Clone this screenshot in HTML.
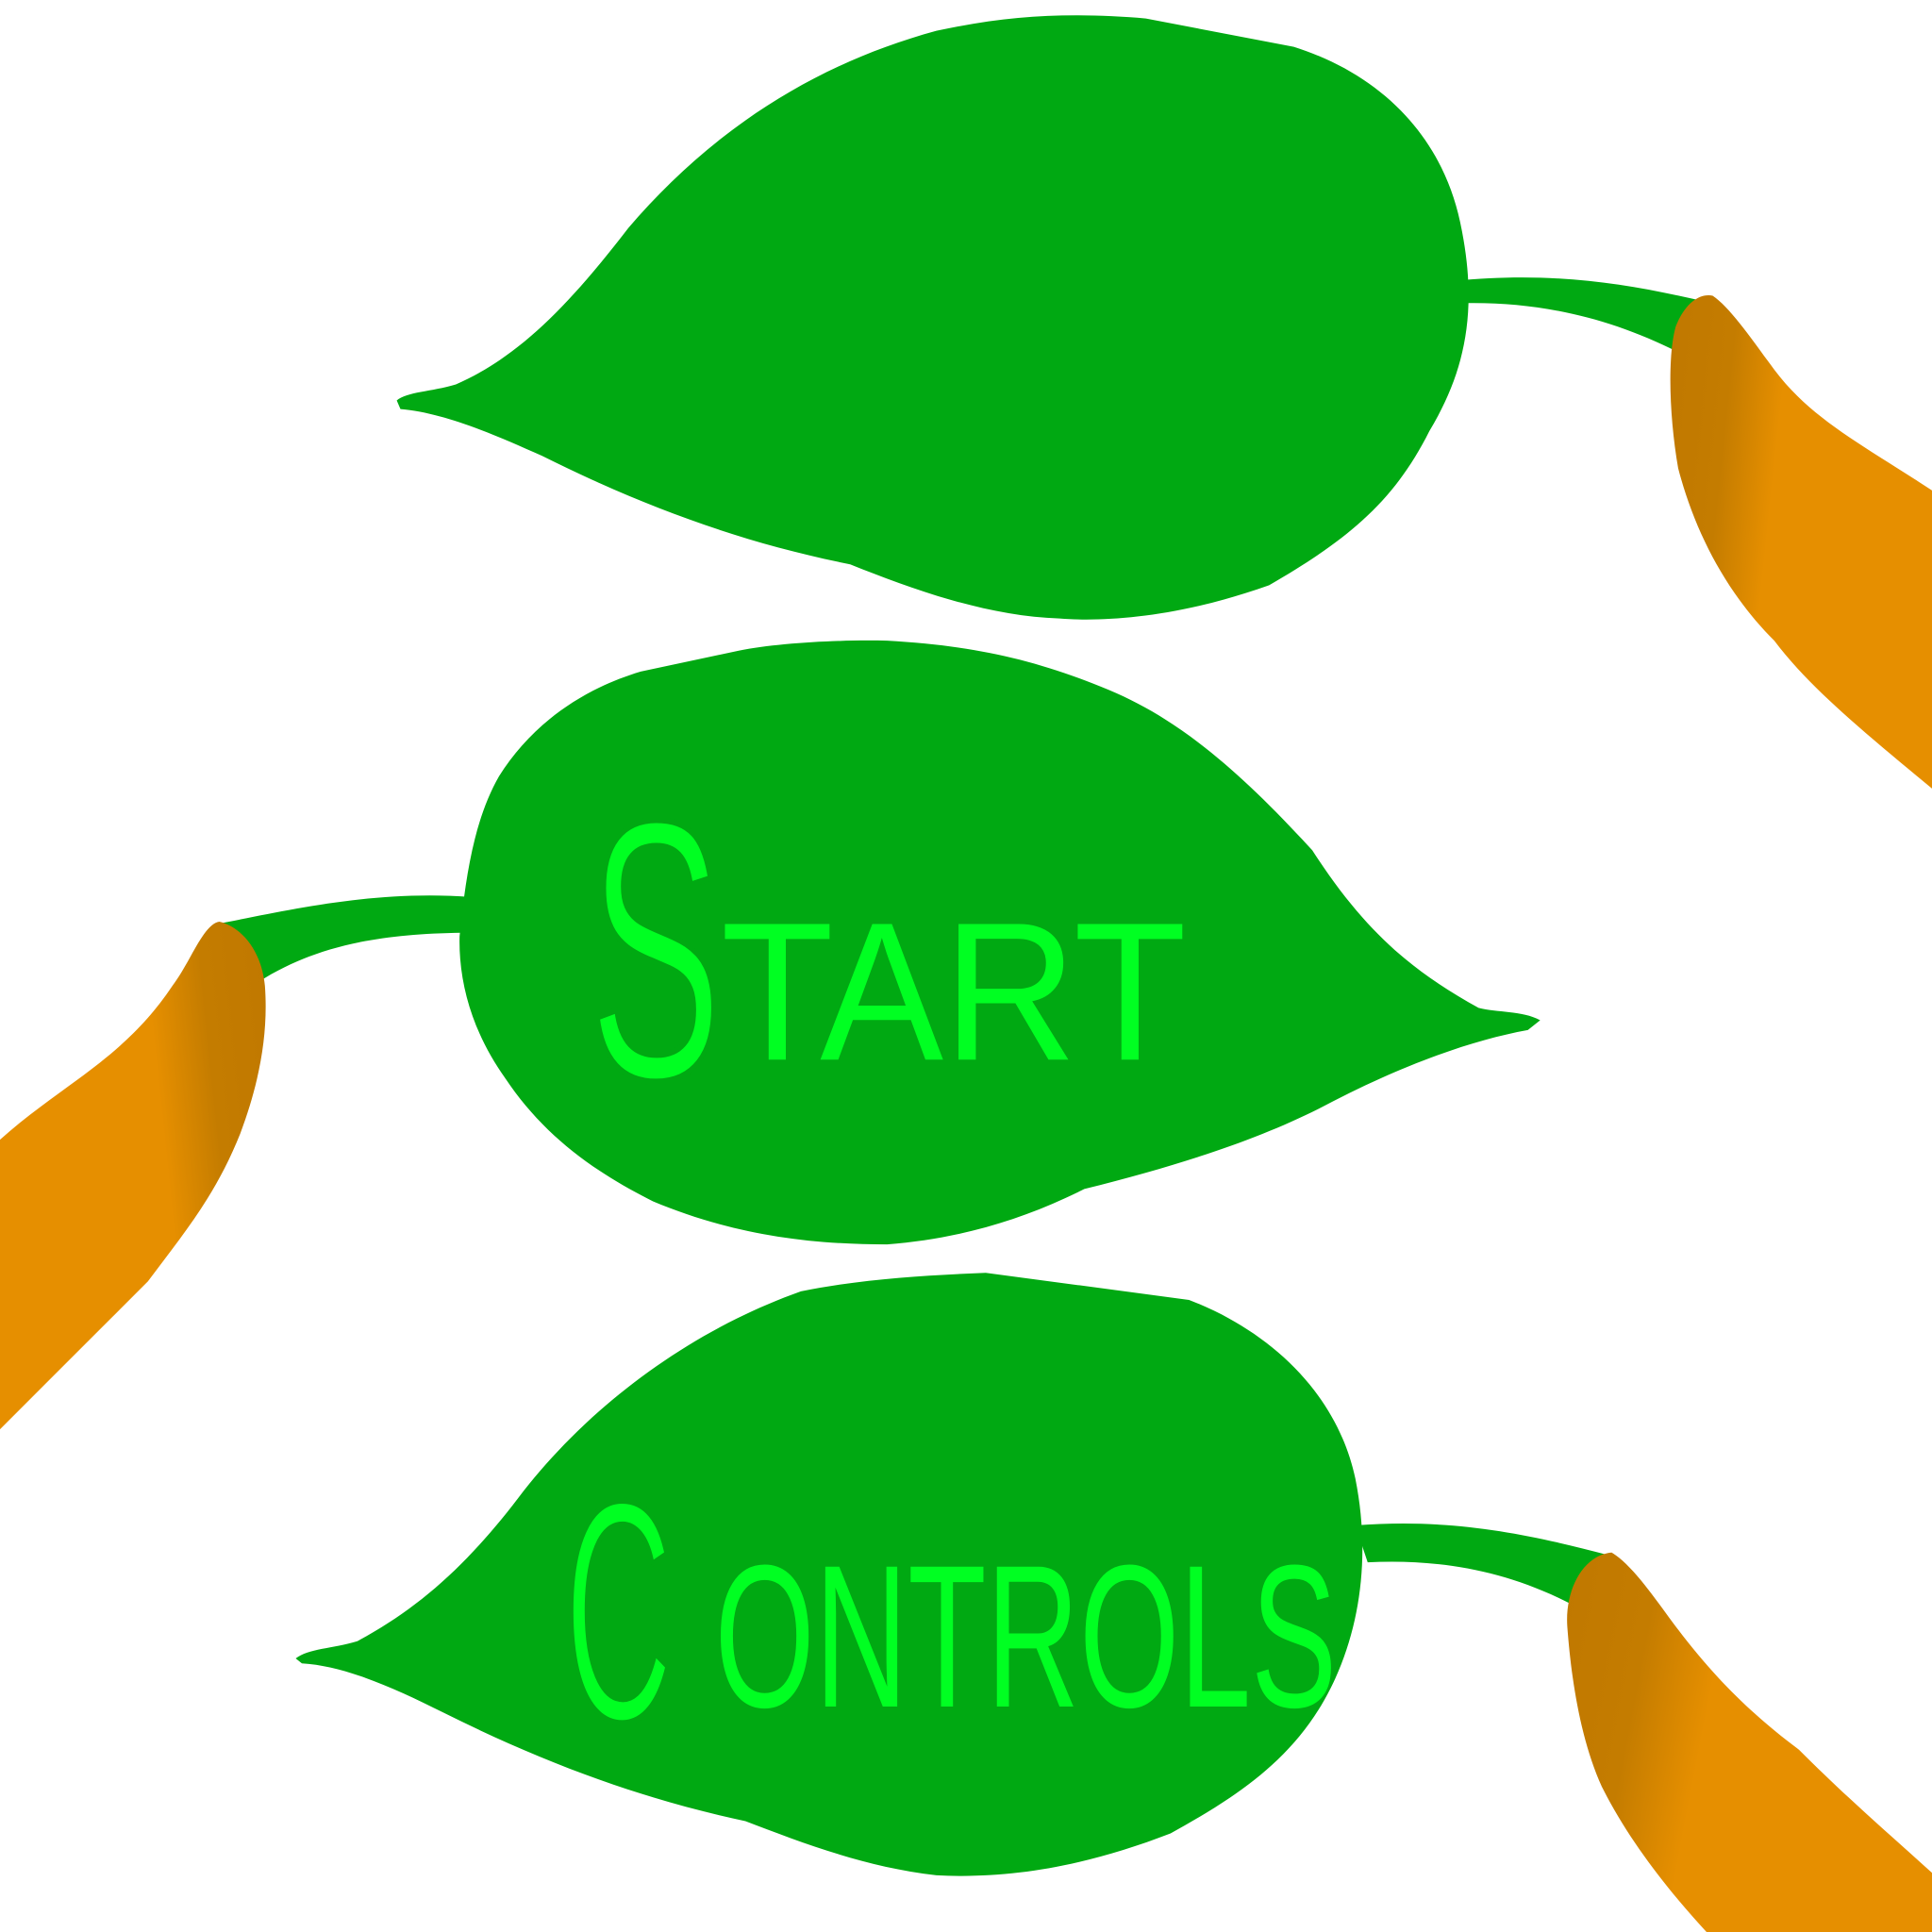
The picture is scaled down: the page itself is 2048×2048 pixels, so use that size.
<!DOCTYPE html>
<html><head><meta charset="utf-8"><style>
html,body{margin:0;padding:0;background:#fff;width:2048px;height:2048px;overflow:hidden}
svg{display:block}
</style></head><body>
<svg width="2048" height="2048" viewBox="0 0 1568 1568" preserveAspectRatio="none">
<defs>
<linearGradient id="tipR" x1="0" y1="0" x2="1" y2="0.2"><stop offset="0" stop-color="#c07800"/><stop offset="0.25" stop-color="#c47c00"/><stop offset="0.45" stop-color="#e68f00"/><stop offset="1" stop-color="#e68f00"/></linearGradient>
<linearGradient id="tipL" x1="1" y1="0" x2="0" y2="0.2"><stop offset="0" stop-color="#c07800"/><stop offset="0.25" stop-color="#c47c00"/><stop offset="0.45" stop-color="#e68f00"/><stop offset="1" stop-color="#e68f00"/></linearGradient>
</defs>

<g>
<path d="M1180,228 C1260,220 1320,230 1385,245 L1370,290 C1310,258 1250,245 1190,246 Z" fill="#00a912"/>
<path d="M322,325 C330,318 350,318 370,312 C420,290 460,250 510,185 C570,115 650,55 760,25 C820,12 870,10 930,15 L1050,38 C1120,60 1170,110 1185,180 C1200,250 1190,300 1160,350 C1130,410 1090,440 1030,475 C960,500 900,505 860,502 C800,500 740,478 690,458 C600,440 520,410 440,370 C400,352 360,335 325,332 Z" fill="#00a912"/>
</g>
<path d="M1390,240 C1405,250 1425,280 1440,300 C1470,340 1510,360 1568,398 L1568,640 C1520,600 1470,560 1440,520 C1400,480 1375,430 1362,380 C1355,340 1353,290 1360,265 C1368,245 1380,238 1390,240 Z" fill="url(#tipR)"/>

<g>
<path d="M175,750 C230,740 300,722 382,728 L375,757 C300,758 250,770 205,800 Z" fill="#00a912"/>
<path d="M1250,828 C1235,820 1215,822 1200,818 C1150,790 1110,760 1065,690 C1010,630 960,585 900,560 C840,535 790,524 720,520 C680,519 630,522 600,528 L520,545 C470,560 430,590 405,630 C385,665 378,710 373,760 C372,800 385,840 410,875 C440,920 480,950 530,975 C590,1000 650,1010 720,1010 C780,1005 830,990 880,965 C960,945 1020,925 1070,900 C1130,868 1190,845 1240,836 Z" fill="#00a912"/>
<text x="478" y="875" font-family="'Liberation Sans', sans-serif" font-size="300" fill="#00ff22" stroke="#00a912" stroke-width="5" paint-order="fill stroke" textLength="108" lengthAdjust="spacingAndGlyphs">S</text>
<text x="585" y="860" font-family="'Liberation Sans', sans-serif" font-size="160" fill="#00ff22" textLength="378" lengthAdjust="spacingAndGlyphs">TART</text>
</g>
<path d="M178,748 C195,752 212,770 215,800 C218,840 210,880 195,920 C175,970 150,1000 120,1040 C80,1080 40,1120 0,1160 L0,925 C50,880 100,860 140,800 C155,780 165,750 178,748 Z" fill="url(#tipL)"/>

<g>
<path d="M1100,1238 C1180,1232 1240,1245 1305,1262 L1290,1310 C1230,1275 1170,1265 1110,1268 Z" fill="#00a912"/>
<path d="M240,1346 C250,1338 270,1338 290,1332 C340,1305 380,1270 425,1210 C480,1140 560,1080 650,1048 C700,1038 750,1035 800,1033 L965,1055 C1030,1080 1085,1130 1100,1200 C1112,1260 1105,1320 1080,1370 C1050,1430 1000,1460 950,1488 C880,1515 820,1525 760,1522 C700,1515 650,1495 605,1478 C520,1460 440,1430 360,1390 C320,1370 280,1352 245,1350 Z" fill="#00a912"/>
<text x="458" y="1396" font-family="'Liberation Sans', sans-serif" font-size="255" fill="#00ff22" stroke="#00a912" stroke-width="5" paint-order="fill stroke" textLength="88" lengthAdjust="spacingAndGlyphs">C</text>
<text x="580" y="1385" font-family="'Liberation Sans', sans-serif" font-size="165" fill="#00ff22" textLength="505" lengthAdjust="spacingAndGlyphs">ONTROLS</text>
</g>
<path d="M1308,1260 C1325,1270 1345,1300 1360,1320 C1390,1360 1420,1390 1460,1420 C1500,1460 1535,1490 1568,1520 L1568,1568 L1385,1568 C1350,1530 1320,1490 1300,1450 C1282,1410 1275,1360 1272,1320 C1270,1290 1285,1262 1308,1260 Z" fill="url(#tipR)"/>
</svg>
</body></html>
